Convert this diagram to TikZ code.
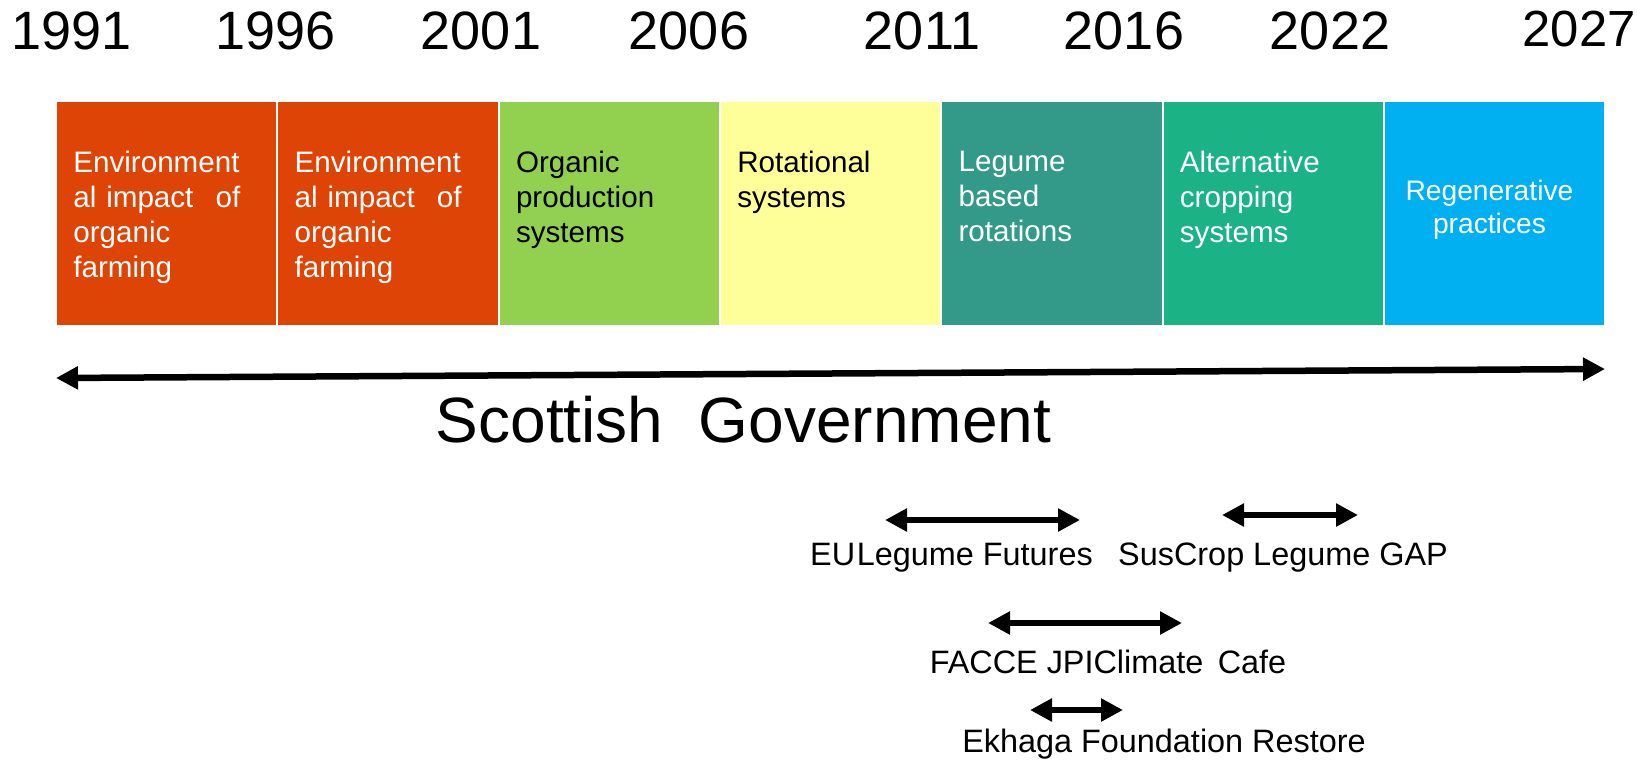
\documentclass[tikz,border=0pt]{standalone}
\usepackage{fontspec}
\setmainfont{Liberation Sans}
\usetikzlibrary{positioning,arrows.meta,calc}
\definecolor{rust}{RGB}{221,68,6}
\definecolor{leaf}{RGB}{146,208,80}
\definecolor{cream}{RGB}{255,255,153}
\definecolor{lagoon}{RGB}{51,154,137}
\definecolor{jade}{RGB}{27,179,133}
\definecolor{sky}{RGB}{0,176,240}
\begin{document}
\begin{tikzpicture}[x=0.5pt,y=-0.5pt,
phase/.style={rectangle,draw=white,line width=1pt,outer sep=0pt,minimum width=110.65pt,minimum height=112.5pt},
phasefont/.style={inner sep=0pt,font=\fontsize{14.8}{17.4}\selectfont,text=white},
phasetext/.style={phasefont,text width=83.5pt,align=left},
year/.style={anchor=base,font=\fontsize{27}{32}\selectfont},
project/.style={anchor=base,font=\fontsize{16.2}{19.4}\selectfont},
spanarrow/.style={line width=3.25pt,{Triangle[length=11pt,width=11pt]}-{Triangle[length=11pt,width=11pt]}}]
	\useasboundingbox (0,0) rectangle (1637,761);

	\node[year] (y1991) at (71.5,49) {1991};
	\node[year] (y1996) at (275.5,49) {1996};
	\node[year] (y2001) at (481,49) {2001};
	\node[year] (y2006) at (689,49) {2006};
	\node[year] (y2011) at (922,49) {2011};
	\node[year] (y2016) at (1124,49) {2016};
	\node[year] (y2022) at (1330,49) {2022};
	\node[year,font=\fontsize{25.4}{30}\selectfont] (y2027) at (1579,46) {2027};

	\node[phase,fill=rust] (p1) at (166.65,213.5) {};
	\node[phase,fill=rust,right=0pt of p1] (p2) {};
	\node[phase,fill=leaf,right=0pt of p2] (p3) {};
	\node[phase,fill=cream,right=0pt of p3] (p4) {};
	\node[phase,fill=lagoon,right=0pt of p4] (p5) {};
	\node[phase,fill=jade,right=0pt of p5] (p6) {};
	\node[phase,fill=sky,right=0pt of p6] (p7) {};

	\node[phasetext,below right=25pt and 8.5pt of p1.north west] (t1) {Environment\\al impact\hfill of\\organic\\farming};
	\node[phasetext,below right=25pt and 8.5pt of p2.north west] (t2) {Environment\\al impact\hfill of\\organic\\farming};
	\node[phasetext,text=black,below right=25pt and 8.5pt of p3.north west] (t3) {Organic\\production\\systems};
	\node[phasetext,text=black,below right=25pt and 8.5pt of p4.north west] (t4) {Rotational\\systems};
	\node[phasetext,below right=25pt and 8.5pt of p5.north west] (t5) {Legume\\based\\rotations};
	\node[phasetext,below right=25pt and 8.5pt of p6.north west] (t6) {Alternative\\cropping\\systems};
	\node[phasefont,font=\fontsize{14.1}{16.3}\selectfont,align=center,below=39.5pt of p7.north,xshift=-2.5pt] (t7) {Regenerative\\practices};

	\coordinate (sgw) at (56,378);
	\coordinate (sge) at (1605,369);
	\draw[spanarrow] (sgw) -- (sge);
	\node[anchor=base,font=\fontsize{32}{38}\selectfont] (sg) at (743.5,442) {Scottish~~Government};

	\coordinate (euw) at (885,520);
	\coordinate (eue) at (1080,520);
	\draw[spanarrow] (euw) -- (eue);
	\node[project] (eu) at (951.5,565) {EU\kern0.05em Legume Futures};

	\coordinate (scw) at (1222,515);
	\coordinate (sce) at (1358,515);
	\draw[spanarrow] (scw) -- (sce);
	\node[project] (sc) at (1283,565) {SusCrop Legume GAP};

	\coordinate (fcw) at (988,623);
	\coordinate (fce) at (1182,623);
	\draw[spanarrow] (fcw) -- (fce);
	\node[project] (fc) at (1108,673) {FACCE JPIClimate\ \,Cafe};

	\coordinate (ekw) at (1030,710);
	\coordinate (eke) at (1123,710);
	\draw[spanarrow] (ekw) -- (eke);
	\node[project] (ek) at (1164,752) {Ekhaga Foundation Restore};
\end{tikzpicture}
\end{document}
